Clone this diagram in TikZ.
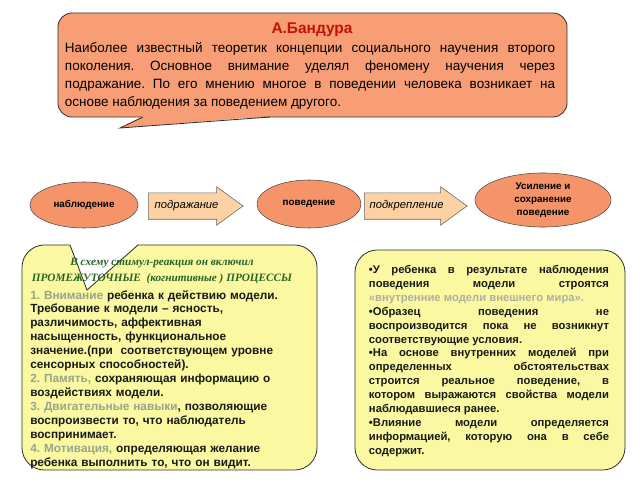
\documentclass[tikz,border=0pt]{standalone}
\usepackage{fontspec}
\setmainfont{Liberation Sans}
\newfontfamily\timesfont{Liberation Serif}
\usetikzlibrary{shapes.geometric,shapes.arrows}
\frenchspacing
\definecolor{coral}{RGB}{248,158,118}
\definecolor{ovalfill}{RGB}{244,148,104}
\definecolor{peach}{RGB}{252,210,164}
\definecolor{paleyellow}{RGB}{250,248,160}
\definecolor{titlered}{RGB}{192,20,10}
\definecolor{hdrgreen}{RGB}{40,100,40}
\definecolor{stepgray}{RGB}{150,165,140}
\definecolor{quotegray}{RGB}{175,175,160}
\tikzset{
  balloon/.style={draw=black!80, fill=coral, rounded corners=10pt, line width=0.6pt},
  oval/.style={ellipse, draw=black!70, fill=ovalfill, inner sep=0pt, align=center,
    font=\fontsize{7}{9}\selectfont\bfseries},
  fatarrow/.style={single arrow, draw=black!60, fill=peach, anchor=tail,
    single arrow head extend=0.15cm, single arrow tip angle=72, inner xsep=0pt,
    inner ysep=5.2pt, text height=6pt, text depth=2pt, align=center,
    font=\fontsize{8}{9}\selectfont\itshape},
  note/.style={draw=black!80, fill=paleyellow, rounded corners=16pt, line width=0.6pt},
  notetext/.style={inner sep=0pt, font=\fontsize{8}{9.9}\selectfont\bfseries, text=black!90}
}
\begin{document}
\begin{tikzpicture}[x=0.025cm,y=-0.025cm]
\useasboundingbox (0,0) rectangle (640,480);
\node[balloon, minimum width=12.725cm, minimum height=2.6cm] (bandura) at (312.5,65) {};
\fill[coral] (143,116) -- (120,128) -- (270,116) -- cycle;
\draw[black!80, line width=0.6pt] (143,117) -- (120,128) -- (270,117);
\node[font=\fontsize{11}{12}\selectfont\bfseries, text=titlered] (name) at (312,30) {А.Бандура};
\node[text width=12.25cm, align=justify, inner sep=0pt, font=\fontsize{9.6}{12.8}\selectfont] (bio) at (310,76)
  {Наиболее известный теоретик концепции социального научения второго \linebreak
   поколения. Основное внимание уделял феномену научения через \linebreak
   подражание. По его мнению многое в поведении человека возникает на \linebreak
   основе наблюдения за поведением другого.};

\node[oval, minimum width=2.7cm, minimum height=1.15cm] (observe) at (84,205) {наблюдение};
\node[oval, minimum width=2.6cm, minimum height=1.2cm] (behave) at (309,204) {поведение};
\node[oval, minimum width=3.4cm, minimum height=1.35cm] (reinforce) at (543,200) {Усиление и\\сохранение\\поведение};
\node[fatarrow, text width=1.9cm] (imitate) at (148,206) {подражание};
\node[fatarrow, text width=2.1cm] (support) at (364,206) {подкрепление};

\node[note, minimum width=7.375cm, minimum height=5.625cm] (processes) at (169.5,357.5) {};
\fill[white] (70,244) -- (87,290) -- (138,244) -- cycle;
\draw[black!80, line width=0.6pt] (70,245) -- (87,290) -- (138,245);
\node[align=center, inner sep=0pt, text=hdrgreen, font=\fontsize{8}{11.3}\selectfont\timesfont\bfseries\itshape] (stimhead) at (162,271)
  {В схему стимул-реакция он включил\\ПРОМЕЖУТОЧНЫЕ \ (когнитивные ) ПРОЦЕССЫ};
\node[notetext, anchor=north west, text width=7cm, align=left, font=\fontsize{8.4}{9.9}\selectfont\bfseries] (steps) at (30,290)
  {\textcolor{stepgray}{1. Внимание} ребенка к действию модели.\\
   Требование к модели – ясность,\\
   различимость, аффективная\\
   насыщенность, функциональное\\
   значение.(при \ соответствующем уровне\\
   сенсорных способностей).\\
   \textcolor{stepgray}{2. Память,} сохраняющая информацию о\\
   воздействиях модели.\\
   \textcolor{stepgray}{3. Двигательные навыки}, позволяющие\\
   воспроизвести то, что наблюдатель\\
   воспринимает.\\
   \textcolor{stepgray}{4. Мотивация,} определяющая желание\\
   ребенка выполнить то, что он видит.};

\node[note, minimum width=6.75cm, minimum height=5.5cm] (mechanisms) at (490,360) {};
\node[notetext, text width=6cm, align=justify] (mechtext) at (489,361)
  {•У ребенка в результате наблюдения \linebreak
   поведения модели строятся \linebreak
   \textcolor{quotegray}{«внутренние модели внешнего мира».}\\
   •Образец поведения не \linebreak
   воспроизводится пока не возникнут \linebreak
   соответствующие условия.\\
   •На основе внутренних моделей при \linebreak
   определенных обстоятельствах \linebreak
   строится реальное поведение, в \linebreak
   котором выражаются свойства модели \linebreak
   наблюдавшиеся ранее.\\
   •Влияние модели определяется \linebreak
   информацией, которую она в себе \linebreak
   содержит.};
\end{tikzpicture}
\end{document}
